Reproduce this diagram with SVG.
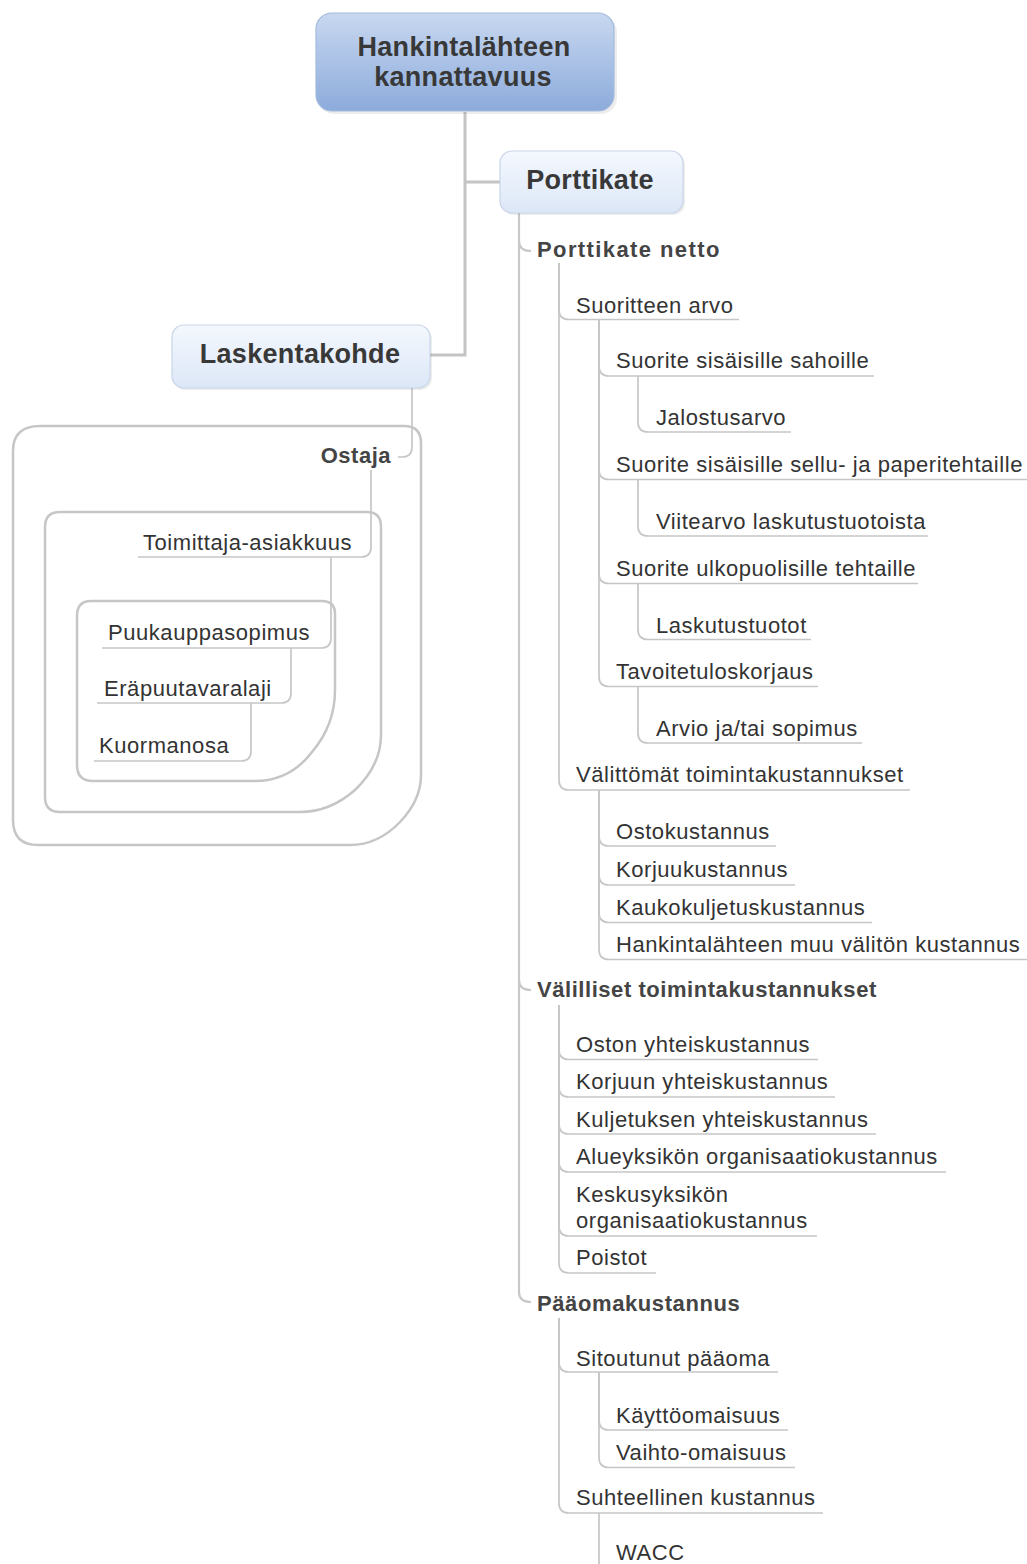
<svg xmlns="http://www.w3.org/2000/svg" width="1027" height="1564" viewBox="0 0 1027 1564">
<style>
  .t { font-family: "Liberation Sans", Arial, sans-serif; font-size: 22px; fill: #333; letter-spacing: 0.55px; }
  .b { font-family: "Liberation Sans", Arial, sans-serif; font-size: 22px; font-weight: bold; fill: #444; letter-spacing: 1px; }
  .big { font-family: "Liberation Sans", Arial, sans-serif; font-size: 27px; font-weight: bold; fill: #383838; letter-spacing: 0.3px; }
  .c { fill: none; stroke: #c6c6c6; stroke-width: 1.7; }
  .cm { fill: none; stroke: #c4c4c4; stroke-width: 3; }
  .c2 { fill: none; stroke: #c8c8c8; stroke-width: 2.2; }
  .ul { stroke: #c6c6c6; stroke-width: 1.7; }
  .bd { fill: none; stroke: #c6c6c6; stroke-width: 2.5; stroke-linejoin: round; }
  .sh { fill: #000; opacity: 0.07; }
</style>
<defs>
  <linearGradient id="gRoot" x1="0" y1="0" x2="0" y2="1">
    <stop offset="0" stop-color="#c8d8f0"/>
    <stop offset="1" stop-color="#8cabdb"/>
  </linearGradient>
  <linearGradient id="gSub" x1="0" y1="0" x2="0" y2="1">
    <stop offset="0" stop-color="#f4f8fe"/>
    <stop offset="1" stop-color="#dce7f7"/>
  </linearGradient>
</defs>
<rect width="1027" height="1564" fill="#fff"/>

<!-- boundaries -->
<g id="boundaries">
  <path class="bd" d="M 40,426 L 404,426 Q 421,426 421,443 L 421,775 Q 421,800 400,822 Q 378,845 350,845 L 38,845 Q 13,845 13,820 L 13,451 Q 13,426 40,426 Z"/>
  <path class="bd" d="M 60,512 L 367,512 Q 381,512 381,527 L 381,735 Q 381,765 355,790 Q 330,812 300,812 L 60,812 Q 45,812 45,797 L 45,527 Q 45,512 60,512 Z"/>
  <path class="bd" d="M 91,601 L 322,601 Q 335,601 335,614 L 335,690 Q 335,725 312,752 Q 290,781 255,781 L 93,781 Q 77,781 77,765 L 77,616 Q 77,601 91,601 Z"/>
</g>

<!-- connectors -->
<g id="connectors">
  <path class="cm" d="M 465,112 L 465,355 L 430,355"/>
  <path class="cm" d="M 465,182 L 500,182"/>
  <!-- left side -->
  <path class="c" d="M 412,388 L 412,447 Q 412,457 402,457 L 398,457"/>
  <path class="c" d="M 371,470 L 371,547 Q 371,557 361,557"/>
  <path class="c" d="M 331,557 L 331,638 Q 331,648 321,648"/>
  <path class="c" d="M 291,648 L 291,693 Q 291,703 281,703"/>
  <path class="c" d="M 251,703 L 251,751 Q 251,761 241,761"/>
  <!-- main right vertical -->
  <path class="c2" d="M 519,213 L 519,1292 Q 519,1302 531,1302"/>
  <path class="c2" d="M 519,241 Q 519,251 531,251"/>
  <path class="c2" d="M 519,980 Q 519,990 531,990"/>
  <!-- level 2 under Porttikate netto -->
  <path class="c" d="M 559,263 L 559,309.5 Q 559,319.5 569,319.5"/>
  <path class="c" d="M 559,263 L 559,780 Q 559,790 569,790"/>
  <!-- level 3 under Suoritteen arvo -->
  <path class="c" d="M 599,319.5 L 599,366 Q 599,376 609,376"/>
  <path class="c" d="M 599,319.5 L 599,469.5 Q 599,479.5 609,479.5"/>
  <path class="c" d="M 599,319.5 L 599,573.5 Q 599,583.5 609,583.5"/>
  <path class="c" d="M 599,319.5 L 599,676.5 Q 599,686.5 609,686.5"/>
  <!-- level 4 -->
  <path class="c" d="M 638,376 L 638,422 Q 638,432 648,432"/>
  <path class="c" d="M 638,479.5 L 638,526 Q 638,536 648,536"/>
  <path class="c" d="M 638,583.5 L 638,629.5 Q 638,639.5 648,639.5"/>
  <path class="c" d="M 638,686.5 L 638,733 Q 638,743 648,743"/>
  <!-- level 3 under Välittömät -->
  <path class="c" d="M 599,790 L 599,836 Q 599,846 609,846"/>
  <path class="c" d="M 599,790 L 599,875 Q 599,885 609,885"/>
  <path class="c" d="M 599,790 L 599,912.5 Q 599,922.5 609,922.5"/>
  <path class="c" d="M 599,790 L 599,949.5 Q 599,959.5 609,959.5"/>
  <!-- level 2 under Välilliset -->
  <path class="c" d="M 559,1005 L 559,1049.5 Q 559,1059.5 569,1059.5"/>
  <path class="c" d="M 559,1005 L 559,1087 Q 559,1097 569,1097"/>
  <path class="c" d="M 559,1005 L 559,1124 Q 559,1134 569,1134"/>
  <path class="c" d="M 559,1005 L 559,1162 Q 559,1172 569,1172"/>
  <path class="c" d="M 559,1005 L 559,1226 Q 559,1236 569,1236"/>
  <path class="c" d="M 559,1005 L 559,1263 Q 559,1273 569,1273"/>
  <!-- level 2 under Pääomakustannus -->
  <path class="c" d="M 559,1318 L 559,1362 Q 559,1372 569,1372"/>
  <path class="c" d="M 559,1318 L 559,1503 Q 559,1513 569,1513"/>
  <!-- level 3 under Sitoutunut pääoma -->
  <path class="c" d="M 599,1372 L 599,1420 Q 599,1430 609,1430"/>
  <path class="c" d="M 599,1372 L 599,1457.5 Q 599,1467.5 609,1467.5"/>
  <!-- level 3 under Suhteellinen kustannus -->
  <path class="c" d="M 599,1513 L 599,1562 Q 599,1572 609,1572"/>
</g>

<!-- nodes -->
<g id="root">
  <rect class="sh" x="318" y="16" width="299" height="98" rx="16"/>
  <rect x="316" y="13" width="298" height="98" rx="16" fill="url(#gRoot)" stroke="#a3badd" stroke-width="1.2"/>
  <text class="big" x="464" y="56" text-anchor="middle">Hankintalähteen</text>
  <text class="big" x="463" y="86" text-anchor="middle">kannattavuus</text>
</g>
<g id="porttikate">
  <rect class="sh" x="502" y="153" width="183" height="62" rx="12"/>
  <rect x="500" y="151" width="183" height="62" rx="12" fill="url(#gSub)" stroke="#c9d5e8" stroke-width="1.2"/>
  <text class="big" x="590" y="189" text-anchor="middle">Porttikate</text>
</g>
<g id="laskentakohde">
  <rect class="sh" x="174" y="327" width="258" height="63" rx="12"/>
  <rect x="172" y="325" width="258" height="63" rx="12" fill="url(#gSub)" stroke="#c9d5e8" stroke-width="1.2"/>
  <text class="big" x="300" y="363" text-anchor="middle">Laskentakohde</text>
</g>

<g id="ostaja"><text class="b" x="391" y="463" text-anchor="end" style="letter-spacing:0.5px">Ostaja</text></g>
<g id="toimittaja"><line class="ul" x1="361" y1="557" x2="138" y2="557"/><text class="t" x="143" y="550">Toimittaja-asiakkuus</text></g>
<g id="puukauppasopimus"><line class="ul" x1="321" y1="648" x2="102" y2="648"/><text class="t" x="108" y="640">Puukauppasopimus</text></g>
<g id="erapuutavaralaji"><line class="ul" x1="281" y1="703" x2="97" y2="703"/><text class="t" x="104" y="696">Eräpuutavaralaji</text></g>
<g id="kuormanosa"><line class="ul" x1="241" y1="761" x2="94" y2="761"/><text class="t" x="99" y="753">Kuormanosa</text></g>

<g id="porttikate-netto"><text class="b" x="537" y="257" style="letter-spacing:1.4px">Porttikate netto</text></g>
<g id="suoritteen-arvo"><line class="ul" x1="569" y1="319.5" x2="739" y2="319.5"/><text class="t" x="576" y="313">Suoritteen arvo</text></g>
<g id="suorite-sahoille"><line class="ul" x1="609" y1="376" x2="874" y2="376"/><text class="t" x="616" y="368">Suorite sisäisille sahoille</text></g>
<g id="jalostusarvo"><line class="ul" x1="648" y1="432" x2="791" y2="432"/><text class="t" x="656" y="425">Jalostusarvo</text></g>
<g id="suorite-sellu"><line class="ul" x1="609" y1="479.5" x2="1027" y2="479.5"/><text class="t" x="616" y="472">Suorite sisäisille sellu- ja paperitehtaille</text></g>
<g id="viitearvo"><line class="ul" x1="648" y1="536" x2="928" y2="536"/><text class="t" x="656" y="529">Viitearvo laskutustuotoista</text></g>
<g id="suorite-ulko"><line class="ul" x1="609" y1="583.5" x2="918" y2="583.5"/><text class="t" x="616" y="576">Suorite ulkopuolisille tehtaille</text></g>
<g id="laskutustuotot"><line class="ul" x1="648" y1="639.5" x2="811" y2="639.5"/><text class="t" x="656" y="633">Laskutustuotot</text></g>
<g id="tavoitetuloskorjaus"><line class="ul" x1="609" y1="686.5" x2="818" y2="686.5"/><text class="t" x="616" y="679">Tavoitetuloskorjaus</text></g>
<g id="arvio"><line class="ul" x1="648" y1="743" x2="862" y2="743"/><text class="t" x="656" y="736">Arvio ja/tai sopimus</text></g>
<g id="valittomat"><line class="ul" x1="569" y1="790" x2="910" y2="790"/><text class="t" x="576" y="782">Välittömät toimintakustannukset</text></g>
<g id="ostokustannus"><line class="ul" x1="609" y1="846" x2="776" y2="846"/><text class="t" x="616" y="839">Ostokustannus</text></g>
<g id="korjuukustannus"><line class="ul" x1="609" y1="885" x2="795" y2="885"/><text class="t" x="616" y="877">Korjuukustannus</text></g>
<g id="kaukokuljetuskustannus"><line class="ul" x1="609" y1="922.5" x2="872" y2="922.5"/><text class="t" x="616" y="915">Kaukokuljetuskustannus</text></g>
<g id="muu-valiton"><line class="ul" x1="609" y1="959.5" x2="1027" y2="959.5"/><text class="t" x="616" y="952">Hankintalähteen muu välitön kustannus</text></g>

<g id="valilliset"><text class="b" x="537" y="997" style="letter-spacing:0.55px">Välilliset toimintakustannukset</text></g>
<g id="oston-yhteis"><line class="ul" x1="569" y1="1059.5" x2="818" y2="1059.5"/><text class="t" x="576" y="1052">Oston yhteiskustannus</text></g>
<g id="korjuun-yhteis"><line class="ul" x1="569" y1="1097" x2="835" y2="1097"/><text class="t" x="576" y="1089">Korjuun yhteiskustannus</text></g>
<g id="kuljetuksen-yhteis"><line class="ul" x1="569" y1="1134" x2="876" y2="1134"/><text class="t" x="576" y="1127">Kuljetuksen yhteiskustannus</text></g>
<g id="alueyksikon"><line class="ul" x1="569" y1="1172" x2="946" y2="1172"/><text class="t" x="576" y="1164">Alueyksikön organisaatiokustannus</text></g>
<g id="keskusyksikon"><line class="ul" x1="569" y1="1236" x2="817" y2="1236"/><text class="t" x="576" y="1202">Keskusyksikön</text><text class="t" x="576" y="1228">organisaatiokustannus</text></g>
<g id="poistot"><line class="ul" x1="569" y1="1273" x2="656" y2="1273"/><text class="t" x="576" y="1265">Poistot</text></g>

<g id="paaomakustannus"><text class="b" x="537" y="1311" style="letter-spacing:0.6px">Pääomakustannus</text></g>
<g id="sitoutunut"><line class="ul" x1="569" y1="1372" x2="778" y2="1372"/><text class="t" x="576" y="1366">Sitoutunut pääoma</text></g>
<g id="kayttoomaisuus"><line class="ul" x1="609" y1="1430" x2="788" y2="1430"/><text class="t" x="616" y="1423">Käyttöomaisuus</text></g>
<g id="vaihto-omaisuus"><line class="ul" x1="609" y1="1467.5" x2="795" y2="1467.5"/><text class="t" x="616" y="1460">Vaihto-omaisuus</text></g>
<g id="suhteellinen"><line class="ul" x1="569" y1="1513" x2="823" y2="1513"/><text class="t" x="576" y="1505">Suhteellinen kustannus</text></g>
<g id="wacc"><text class="t" x="616" y="1560">WACC</text></g>
</svg>
